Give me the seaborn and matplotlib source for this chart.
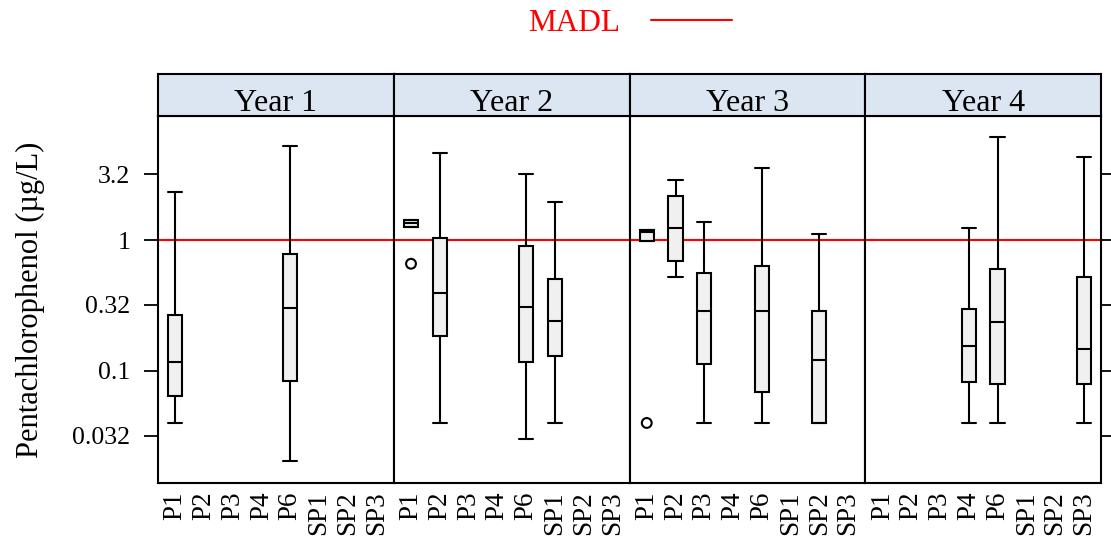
import pandas as pd
import matplotlib.pyplot as plt
import seaborn as sns
from matplotlib.lines import Line2D

# --- data (five-number summaries per year/site) ---
years = ['Year 1', 'Year 2', 'Year 3', 'Year 4']
sites = ['P1', 'P2', 'P3', 'P4', 'P6', 'SP1', 'SP2', 'SP3']

box_year = ['Year 1', 'Year 1',
            'Year 2', 'Year 2', 'Year 2', 'Year 2',
            'Year 3', 'Year 3', 'Year 3', 'Year 3', 'Year 3',
            'Year 4', 'Year 4', 'Year 4']
box_site = ['P1', 'P6',
            'P1', 'P2', 'P6', 'SP1',
            'P1', 'P2', 'P3', 'P6', 'SP2',
            'P4', 'P6', 'SP3']
whis_lo = [0.040, 0.0203, 1.27, 0.040, 0.0303, 0.040, 0.98, 0.526, 0.040, 0.040, 0.040, 0.040, 0.040, 0.040]
q1 = [0.064, 0.0837, 1.27, 0.186, 0.117, 0.130, 0.98, 0.695, 0.113, 0.0688, 0.040, 0.082, 0.0788, 0.0788]
median = [0.116, 0.302, 1.35, 0.393, 0.308, 0.240, 1.16, 1.24, 0.287, 0.287, 0.121, 0.155, 0.238, 0.146]
q3 = [0.27, 0.778, 1.43, 1.036, 0.898, 0.508, 1.195, 2.18, 0.561, 0.629, 0.287, 0.295, 0.603, 0.526]
whis_hi = [2.35, 5.25, 1.43, 4.64, 3.23, 1.96, 1.195, 2.90, 1.37, 3.59, 1.11, 1.24, 6.14, 4.30]

# points drawn outside the whiskers
out_year = ['Year 2', 'Year 3']
out_site = ['P1', 'P1']
out_value = [0.66, 0.040]

madl = 1.0
y_ticks = [0.032, 0.1, 0.32, 1, 3.2]
y_tick_labels = ['0.032', '0.1', '0.32', '1', '3.2']

# long-form table: each box is fed its own summary values
rows = []
for i in range(len(box_year)):
    for v in (whis_lo[i], q1[i], median[i], q3[i], whis_hi[i]):
        rows.append({'year': box_year[i], 'site': box_site[i], 'value': v})
df = pd.DataFrame(rows)
outliers = pd.DataFrame({'year': out_year, 'site': out_site, 'value': out_value})

# --- style ---
sns.set_style('white')
plt.rcParams['font.family'] = ['Liberation Serif', 'DejaVu Serif']
plt.rcParams['text.color'] = 'black'
plt.rcParams['xtick.color'] = 'black'
plt.rcParams['ytick.color'] = 'black'
plt.rcParams['axes.labelcolor'] = 'black'

W, H = 1111, 544
fig = plt.figure(figsize=(W / 100, H / 100), dpi=100)

left, right = 158 / W, 1101 / W
bottom, top = 1 - 483 / H, 1 - 116 / H
strip_h = 42 / H
pw = (right - left) / len(years)

for k, year in enumerate(years):
    ax = fig.add_axes([left + k * pw, bottom, pw, top - bottom])
    sub = df[df['year'] == year]
    sns.boxplot(data=sub, x='site', y='value', order=sites, ax=ax,
                log_scale=True, whis=(0, 100), showfliers=False,
                width=0.5, color='#F0F0F0', saturation=1,
                linecolor='black', linewidth=1.5, capwidths=0.5)
    o = outliers[outliers['year'] == year]
    if len(o):
        sns.scatterplot(x=[sites.index(s) for s in o['site']], y=o['value'], ax=ax,
                        marker='o', s=50, fc='none', ec='black', linewidth=1.5,
                        zorder=5)
    ax.axhline(madl, color='red', lw=1.5, zorder=1)

    ax.set_xlim(-0.6, len(sites) - 0.4)
    ax.set_ylim(0.0139, 8.9)
    ax.set_xticks(range(len(sites)))
    ax.set_xticklabels(sites, rotation=90, fontsize=19.5)
    ax.tick_params(axis='x', length=0, pad=6)
    ax.set_xlabel('')
    ax.set_ylabel('')
    ax.minorticks_off()
    ax.set_yticks(y_ticks)
    ax.set_yticklabels(y_tick_labels)
    if k == 0:
        ax.tick_params(axis='y', left=True, right=False, labelleft=True,
                       length=10, width=1.3, labelsize=18.5, pad=10, direction='out')
    elif k == len(years) - 1:
        ax.tick_params(axis='y', left=False, right=True, labelleft=False,
                       labelright=False, length=10, width=1.3, direction='out')
    else:
        ax.tick_params(axis='y', left=False, right=False, labelleft=False)
    for sp in ax.spines.values():
        sp.set_color('black')
        sp.set_linewidth(1.5)

    # strip with the panel title
    st = fig.add_axes([left + k * pw, top, pw, strip_h])
    st.set_facecolor('#DCE6F2')
    st.set_xticks([])
    st.set_yticks([])
    for sp in st.spines.values():
        sp.set_color('black')
        sp.set_linewidth(1.5)
    st.text(0.5, 0.13, year, ha='center', va='baseline', fontsize=23,
            transform=st.transAxes)

fig.text(30 / W, (bottom + top) / 2, 'Pentachlorophenol (\u00b5g/L)', rotation=90,
         ha='center', va='center', fontsize=22)

fig.legend(handles=[Line2D([], [], color='red', lw=1.5)], labels=['MADL'],
           loc='upper center', bbox_to_anchor=(0.567, 1.035), frameon=False,
           markerfirst=False, fontsize=22.5, labelcolor='red',
           handlelength=2.6, handletextpad=1.0)

plt.savefig('out.png', dpi=100)
